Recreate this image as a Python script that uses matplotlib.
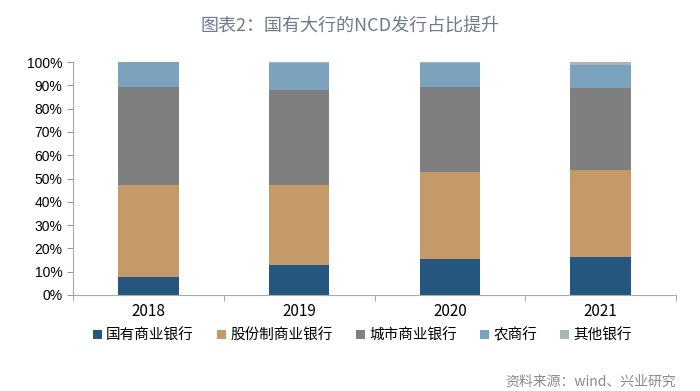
import numpy as np
import matplotlib
matplotlib.use('Agg')
import matplotlib.pyplot as plt
from matplotlib.ticker import PercentFormatter

plt.rcParams['font.family'] = ['Noto Sans CJK SC', 'DejaVu Sans']

years = ['2018', '2019', '2020', '2021']
series = ['国有商业银行', '股份制商业银行', '城市商业银行', '农商行', '其他银行']
# shares in %
state = [7.9, 12.8, 15.6, 16.4]
joint = [39.5, 34.4, 37.2, 37.4]
city = [41.7, 40.7, 36.4, 35.0]
rural = [10.7, 11.8, 10.2, 9.9]
other = [0.2, 0.3, 0.6, 1.3]
colors = ['#25577e', '#c49a68', '#7f7f7f', '#7ba3be', '#a9b5bd']

fig = plt.figure(figsize=(7, 3.91), dpi=100)
ax = fig.add_axes([73/700, 1-295/391, (676-73)/700, (295-62)/391])

x = np.arange(len(years))
bottom = np.zeros(len(years))
for name, vals, c in zip(series, [state, joint, city, rural, other], colors):
    ax.bar(x, vals, width=0.4, bottom=bottom, color=c, label=name)
    bottom += np.array(vals)

ax.set_xlim(-0.5, len(years) - 0.5)
ax.set_ylim(0, 100)
ax.set_yticks(np.arange(0, 101, 10))
ax.yaxis.set_major_formatter(PercentFormatter(decimals=0))
ax.set_xticks(x)
ax.set_xticklabels(years, fontsize=11)
ax.set_xticks(np.arange(-0.5, len(years)), minor=True)
ax.tick_params(axis='x', which='major', length=0, pad=6)
ax.tick_params(axis='x', which='minor', length=4, color='#999999')
ax.tick_params(axis='y', length=4, color='#999999', labelsize=10)
for lab in ax.get_yticklabels():
    lab.set_fontfamily(['Liberation Sans', 'DejaVu Sans'])
for s in ['top', 'right']:
    ax.spines[s].set_visible(False)
for s in ['left', 'bottom']:
    ax.spines[s].set_color('#aaaaaa')

ax.legend(loc='upper center', bbox_to_anchor=(0.48, -0.085), ncol=5, frameon=False,
          fontsize=10.5, handlelength=0.6, handleheight=0.6, handletextpad=0.3,
          columnspacing=1.6)

fig.text(0.5, 1-27/391, '图表2：国有大行的NCD发行占比提升', ha='center', va='center',
         fontsize=13, color='#6e7b8b')
fig.text(676/700, 1-382/391, '资料来源：wind、兴业研究', ha='right', va='center',
         fontsize=10, color='#8a8a8a')

fig.savefig('out.png', dpi=100)
